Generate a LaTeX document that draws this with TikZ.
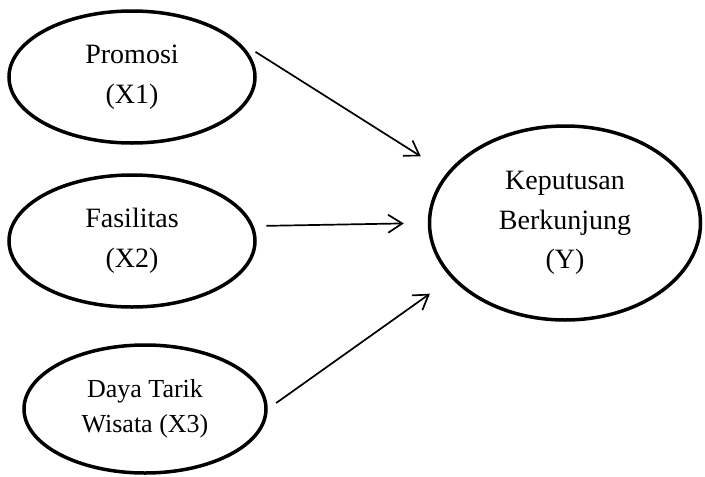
\documentclass[tikz,border=0pt]{standalone}
\usepackage{fontspec}
\setmainfont{Liberation Serif}
\usetikzlibrary{shapes.geometric,arrows.meta}
\begin{document}
\begin{tikzpicture}[x=1pt,y=-1pt,
  var/.style={ellipse,draw,line width=3.5pt,inner sep=0pt,align=center,
    font=\fontsize{28}{39.5}\selectfont},
  arr/.style={line width=1.7pt,-{Straight Barb[length=14pt,width=18pt,line width=1.7pt]}}]
\useasboundingbox (0,0) rectangle (705,477);
\node[var,minimum width=246pt,minimum height=132pt] (p) at (132,77) {Promosi\\(X1)};
\node[var,minimum width=246pt,minimum height=132pt] (f) at (132,241) {Fasilitas\\(X2)};
\node[var,minimum width=271pt,minimum height=194pt] (y) at (565,223) {Keputusan\\Berkunjung\\(Y)};
\node[var,minimum width=242pt,minimum height=128pt,font=\fontsize{26}{35}\selectfont] (d) at (145,409) {Daya Tarik\\Wisata (X3)};
\draw[arr,shorten <=23.5pt,shorten >=30.7pt] (p.20.2) -- (y.157);
\draw[arr,shorten <=12.7pt,shorten >=24pt] (f.7) -- (y.180.5);
\draw[arr,shorten <=10.3pt,shorten >=26.4pt] (d.-0.9) -- (y.206.6);
\end{tikzpicture}
\end{document}
